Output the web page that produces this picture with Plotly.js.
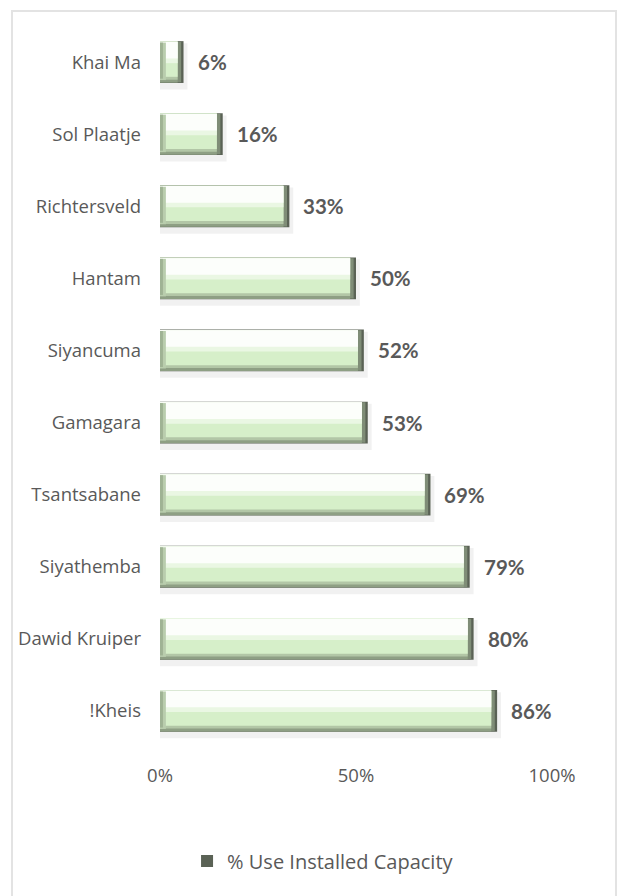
<!DOCTYPE html>
<html>
<head>
<meta charset="utf-8">
<script src="https://cdn.plot.ly/plotly-3.0.1.min.js"></script>
<style>
  html, body { margin: 0; padding: 0; background: #ffffff; overflow: hidden; }
  #wrap { position: relative; width: 627px; height: 896px; }
  #frame { position: absolute; left: 11px; top: 10px; width: 606px; height: 900px;
           border: 2px solid #e3e3e3; box-sizing: border-box; pointer-events: none; }
  #chart { position: absolute; left: 0; top: 0; width: 627px; height: 896px; }
</style>
</head>
<body>
<div id="wrap">
  <div id="frame"></div>
  <div id="chart"></div>
</div>
<script>
// ---- data (top to bottom as displayed) ----
const categories = ["Khai Ma", "Sol Plaatje", "Richtersveld", "Hantam", "Siyancuma",
                    "Gamagara", "Tsantsabane", "Siyathemba", "Dawid Kruiper", "!Kheis"];
const useInstalledCapacity = [6, 16, 33, 50, 52, 53, 69, 79, 80, 86];
const seriesName = "% Use Installed Capacity";
const xTickValues = [0, 50, 100];
const xTickLabels = ["0%", "50%", "100%"];

// ---- styling ----
const FONT = "'Open Sans', Lato, sans-serif";
const LABEL_FONT = "Lato, 'Open Sans', sans-serif";
const TXT = "#595959";
const BAR_W = 0.58;
const TOP = -BAR_W / 2;

const v = useInstalledCapacity;
const mid = v.map(d => Math.max(d - 0.6, 0));
const inner = v.map(d => Math.max(d - 1.5, 0));
const leftBevel = inner.map(d => Math.min(d, 1.5));

function barLayer(x, width, offset, color, opts) {
  return Object.assign({
    type: "bar", orientation: "h", x: x, y: categories,
    width: width, offset: offset,
    marker: { color: color, line: { width: 0 } },
    showlegend: false, hoverinfo: "skip"
  }, opts || {});
}

const traces = [
  // soft drop shadow
  barLayer(v.map(d => d + 1.0), BAR_W + 0.06, TOP + 0.03, "rgba(0,0,0,0.055)"),
  // dark base (right end)
  barLayer(v, BAR_W, TOP, "#5a6255", { name: seriesName, showlegend: true }),
  // right-end mid tone
  barLayer(mid, BAR_W - 0.02, TOP + 0.01, "#7f8d77"),
  // bottom bevel (dark)
  barLayer(inner, BAR_W - 0.01, TOP + 0.005, "#8e9f84"),
  // bottom bevel (lighter)
  barLayer(inner, BAR_W - 0.05, TOP + 0.005, "#b2c6a6"),
  // main fill
  barLayer(inner, BAR_W - 0.09, TOP + 0.005, "#d6efc9"),
  // upper lighter band
  barLayer(inner, 0.30, TOP + 0.005, "#eaf7e3"),
  // top white band
  barLayer(inner, 0.23, TOP + 0.01, "#fcfefb"),
  // left bevel
  barLayer(leftBevel, BAR_W - 0.06, TOP + 0.02, "#b9cdad"),
  barLayer(leftBevel.map(d => d / 2), BAR_W - 0.08, TOP + 0.02, "#9fb394")
];

const annotations = v.map((d, i) => ({
  x: d, y: categories[i], xref: "x", yref: "y",
  text: d + "%", showarrow: false, xanchor: "left", yanchor: "middle",
  xshift: 12, font: { family: LABEL_FONT, size: 20.5, color: TXT, weight: "bold" }
}));

const layout = {
  width: 627, height: 896,
  margin: { l: 160, r: 75, t: 26, b: 149, pad: 0 },
  paper_bgcolor: "rgba(0,0,0,0)", plot_bgcolor: "rgba(0,0,0,0)",
  barmode: "overlay",
  font: { family: FONT, color: TXT, size: 18.5 },
  xaxis: {
    range: [0, 100], tickvals: xTickValues, ticktext: xTickLabels,
    showgrid: false, zeroline: false, showline: false, ticks: "",
    tickfont: { family: FONT, size: 18.5, color: TXT }, ticklabelstandoff: 15, fixedrange: true
  },
  yaxis: {
    type: "category", categoryorder: "array", categoryarray: categories,
    autorange: "reversed", showgrid: false, zeroline: false, showline: false, ticks: "",
    tickfont: { family: FONT, size: 18.5, color: TXT }, ticklabelstandoff: 18, fixedrange: true
  },
  legend: {
    orientation: "h", x: 0.069, xanchor: "left", y: -0.158, yanchor: "middle",
    font: { family: FONT, size: 20, color: TXT }, bgcolor: "rgba(0,0,0,0)"
  },
  annotations: annotations,
  hovermode: false
};

Plotly.newPlot("chart", traces, layout, { displayModeBar: false, staticPlot: true });
</script>
</body>
</html>
